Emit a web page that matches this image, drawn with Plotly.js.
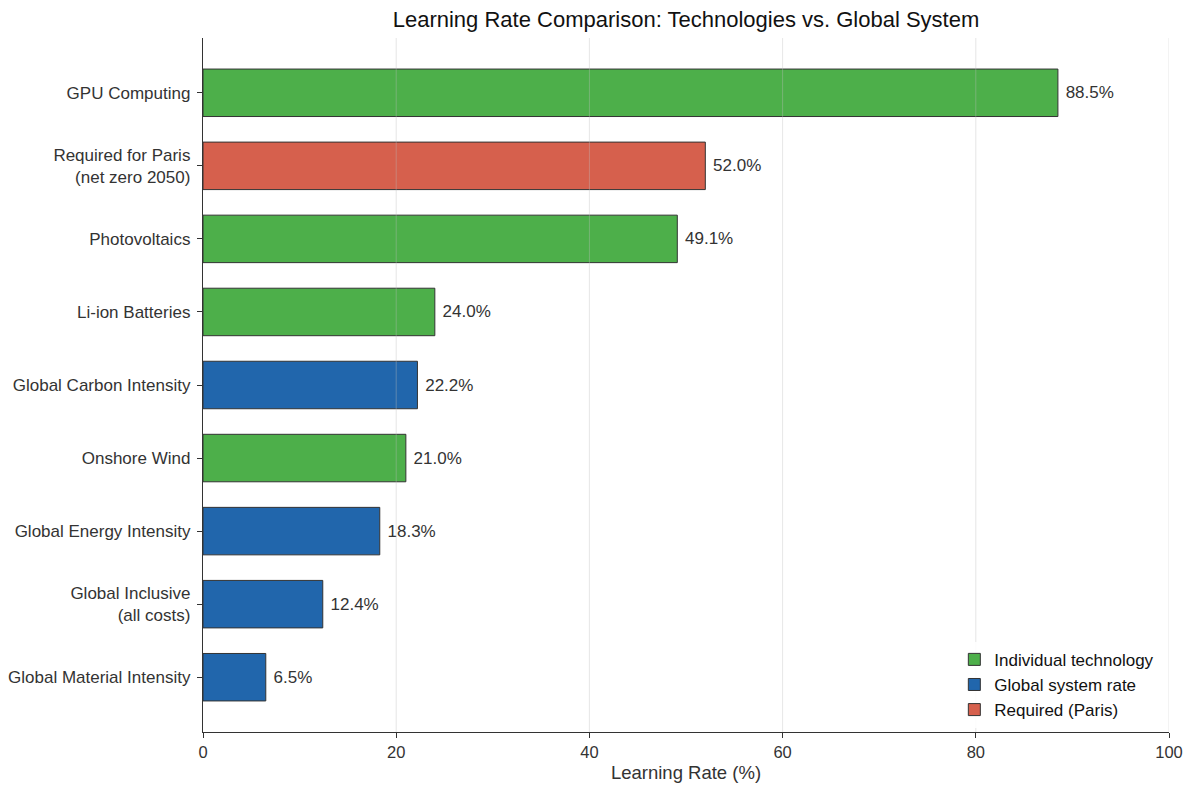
<!DOCTYPE html>
<html>
<head>
<meta charset="utf-8">
<script src="https://cdn.plot.ly/plotly-3.0.1.min.js"></script>
<style>html,body{margin:0;padding:0;background:#fff;}#chart{width:1191px;height:788px;}</style>
</head>
<body>
<div id="chart"></div>
<script>
// Categories from bottom to top
const categories = [
  "Global Material Intensity",
  "Global Inclusive<br>(all costs)",
  "Global Energy Intensity",
  "Onshore Wind",
  "Global Carbon Intensity",
  "Li-ion Batteries",
  "Photovoltaics",
  "Required for Paris<br>(net zero 2050)",
  "GPU Computing"
];
const values = [6.5, 12.4, 18.3, 21.0, 22.2, 24.0, 49.1, 52.0, 88.5];
const groups = ["global", "global", "global", "tech", "global", "tech", "tech", "paris", "tech"];

const groupNames = {tech: "Individual technology", global: "Global system rate", paris: "Required (Paris)"};
const groupColors = {tech: "#4daf4a", global: "#2166ac", paris: "#d6604d"};
const groupOrder = ["tech", "global", "paris"];
const xTicks = [0, 20, 40, 60, 80, 100];

const font = "Liberation Sans, Arial, Helvetica, sans-serif";

const traces = groupOrder.map(g => {
  const ys = [], xs = [], txt = [];
  categories.forEach((c, i) => {
    if (groups[i] === g) { ys.push(c); xs.push(values[i]); txt.push("\u00a0" + values[i].toFixed(1) + "%"); }
  });
  return {
    type: "bar", orientation: "h", name: groupNames[g],
    x: xs, y: ys, text: txt, textposition: "outside", cliponaxis: false,
    textfont: {family: font, size: 17, color: "#333"},
    width: 0.65,
    marker: {color: groupColors[g], line: {color: "#333", width: 1}},
    hoverinfo: "x+y"
  };
});

const shapes = xTicks.filter(t => t > 0).map(t => ({
  type: "line", xref: "x", yref: "paper", x0: t, x1: t, y0: 0, y1: 1,
  line: {color: "rgba(190,190,190,0.38)", width: 1}, layer: "above"
}));

const layout = {
  width: 1191, height: 788,
  margin: {l: 203, r: 22, t: 38, b: 56},
  paper_bgcolor: "#fff", plot_bgcolor: "#fff",
  barmode: "overlay",
  title: {text: "Learning Rate Comparison: Technologies vs. Global System", xref: "paper", x: 0.5, xanchor: "center",
          yref: "container", y: 0.975, yanchor: "middle",
          font: {family: font, size: 22, color: "#111"}},
  font: {family: font, size: 17, color: "#333"},
  xaxis: {
    range: [0, 100], tickvals: xTicks, ticktext: xTicks.map(String),
    showgrid: false, zeroline: false,
    showline: true, linecolor: "#333", linewidth: 1.2,
    ticks: "outside", ticklen: 5, tickcolor: "#333",
    tickfont: {family: font, size: 16.5, color: "#333"},
    title: {text: "Learning Rate (%)", font: {family: font, size: 18.5, color: "#333"}, standoff: 6}
  },
  yaxis: {
    type: "category", categoryorder: "array", categoryarray: categories,
    range: [-0.75, 8.75],
    showgrid: false, zeroline: false,
    showline: true, linecolor: "#333", linewidth: 1.2,
    ticks: "outside", ticklen: 5, tickcolor: "#333",
    tickfont: {family: font, size: 17, color: "#333"},
    ticklabelstandoff: 3,
    automargin: false
  },
  legend: {
    x: 0.99, xanchor: "right", y: 0.006, yanchor: "bottom",
    bgcolor: "rgba(255,255,255,0.85)", borderwidth: 0,
    font: {family: font, size: 17, color: "#111"},
    tracegroupgap: 0, itemwidth: 30
  },
  shapes: shapes,
  showlegend: true
};

Plotly.newPlot("chart", traces, layout, {displayModeBar: false, staticPlot: true});
</script>
</body>
</html>
